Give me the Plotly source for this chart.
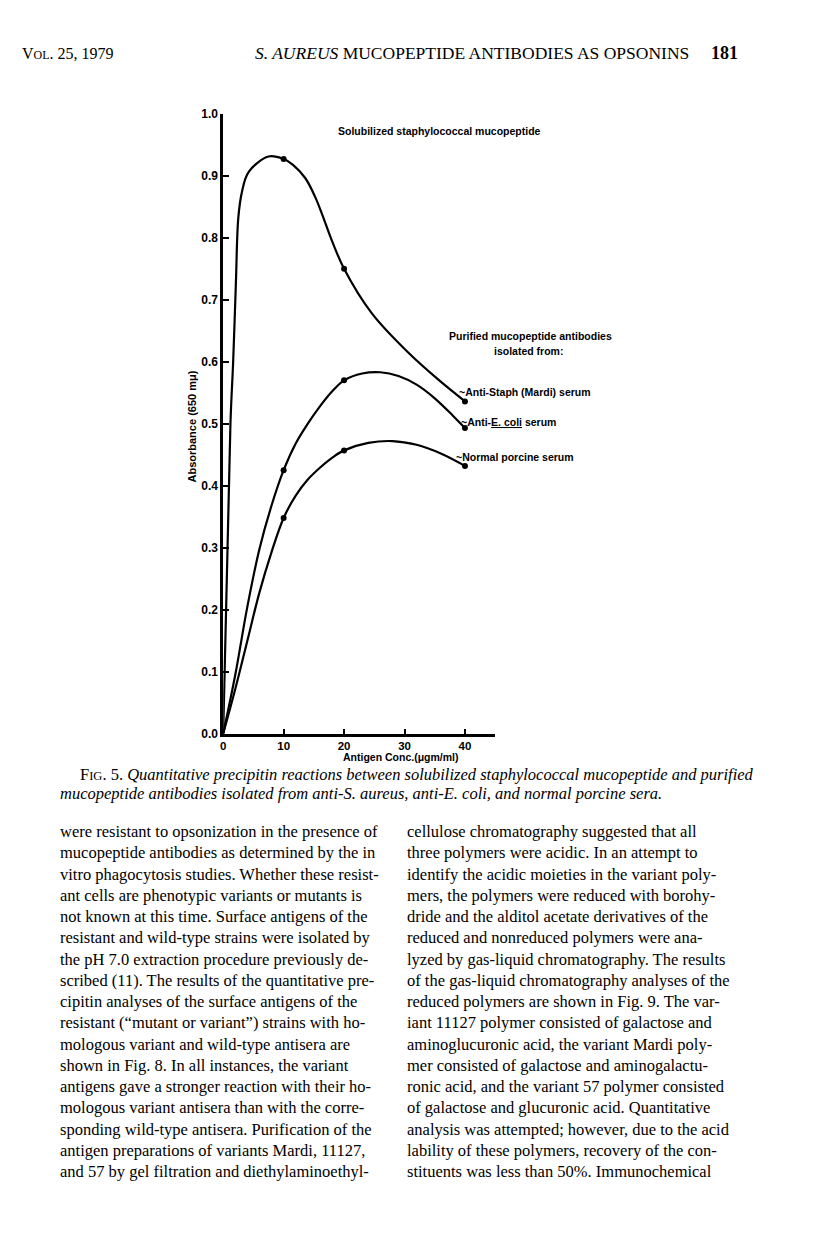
import plotly.graph_objects as go

W, H = 816, 1235

# ---- data ----
conc_measured = [10, 20, 40]
staph_measured = [0.927, 0.750, 0.536]
ecoli_measured = [0.425, 0.570, 0.493]
porcine_measured = [0.348, 0.457, 0.432]

# hand-drawn fitted curves
staph_curve_x = [0, 1.2, 1.65, 2.1, 2.5, 3.1, 4.2, 7.5, 10, 11.5, 13.6, 15.3, 16.4, 18, 20, 24.6, 30.7, 35.6, 40]
staph_curve_y = [0, 0.50, 0.60, 0.726, 0.832, 0.874, 0.906, 0.931, 0.927, 0.918, 0.896, 0.864, 0.837, 0.795, 0.750, 0.678, 0.614, 0.571, 0.536]
ecoli_curve_x = [0, 2, 4, 6, 8, 10, 12, 14, 16, 18, 20, 23, 26, 29, 32, 35, 38, 40]
ecoli_curve_y = [0, 0.095, 0.205, 0.298, 0.368, 0.425, 0.468, 0.500, 0.528, 0.552, 0.570, 0.581, 0.583, 0.577, 0.563, 0.541, 0.513, 0.493]
porcine_curve_x = [0, 2, 4, 6, 8, 10, 12, 14, 16, 18, 20, 24, 28, 32, 36, 40]
porcine_curve_y = [0, 0.072, 0.150, 0.228, 0.293, 0.348, 0.384, 0.410, 0.429, 0.445, 0.457, 0.469, 0.472, 0.466, 0.452, 0.432]

x_ticks = [0, 10, 20, 30, 40]
x_ticktext = ["0", "10", "20", "30", "40"]
y_ticks = [0, 0.1, 0.2, 0.3, 0.4, 0.5, 0.6, 0.7, 0.8, 0.9, 1.0]
y_ticktext = ["0.0", "0.1", "0.2", "0.3", "0.4", "0.5", "0.6", "0.7", "0.8", "0.9", "1.0"]

series_labels = ["~Anti-Staph (Mardi) serum", "~Anti-<u>E. coli</u> serum", "~Normal porcine serum"]

left_col = [
    "were resistant to opsonization in the presence of",
    "mucopeptide antibodies as determined by the in",
    "vitro phagocytosis studies. Whether these resist-",
    "ant cells are phenotypic variants or mutants is",
    "not known at this time. Surface antigens of the",
    "resistant and wild-type strains were isolated by",
    "the pH 7.0 extraction procedure previously de-",
    "scribed (11). The results of the quantitative pre-",
    "cipitin analyses of the surface antigens of the",
    "resistant (\u201cmutant or variant\u201d) strains with ho-",
    "mologous variant and wild-type antisera are",
    "shown in Fig. 8. In all instances, the variant",
    "antigens gave a stronger reaction with their ho-",
    "mologous variant antisera than with the corre-",
    "sponding wild-type antisera. Purification of the",
    "antigen preparations of variants Mardi, 11127,",
    "and 57 by gel filtration and diethylaminoethyl-",
]
right_col = [
    "cellulose chromatography suggested that all",
    "three polymers were acidic. In an attempt to",
    "identify the acidic moieties in the variant poly-",
    "mers, the polymers were reduced with borohy-",
    "dride and the alditol acetate derivatives of the",
    "reduced and nonreduced polymers were ana-",
    "lyzed by gas-liquid chromatography. The results",
    "of the gas-liquid chromatography analyses of the",
    "reduced polymers are shown in Fig. 9. The var-",
    "iant 11127 polymer consisted of galactose and",
    "aminoglucuronic acid, the variant Mardi poly-",
    "mer consisted of galactose and aminogalactu-",
    "ronic acid, and the variant 57 polymer consisted",
    "of galactose and glucuronic acid. Quantitative",
    "analysis was attempted; however, due to the acid",
    "lability of these polymers, recovery of the con-",
    "stituents was less than 50%. Immunochemical",
]


def px(x):
    return x / W


def py(y):
    return 1 - y / H


fig = go.Figure()
for cx, cy in [(staph_curve_x, staph_curve_y), (ecoli_curve_x, ecoli_curve_y),
               (porcine_curve_x, porcine_curve_y)]:
    fig.add_trace(go.Scatter(x=cx, y=cy, mode="lines",
                             line=dict(color="black", width=2.2, shape="spline", smoothing=1.0),
                             hoverinfo="skip", showlegend=False))
for my in [staph_measured, ecoli_measured, porcine_measured]:
    fig.add_trace(go.Scatter(x=conc_measured, y=my, mode="markers",
                             marker=dict(color="black", size=6), showlegend=False))

sans = "Liberation Sans"
serif = "Liberation Serif"

fig.update_layout(
    width=W, height=H, margin=dict(l=0, r=0, t=0, b=0),
    paper_bgcolor="white", plot_bgcolor="white",
    xaxis=dict(domain=[px(221), px(494)], range=[0, 45], showgrid=False, zeroline=False,
               showline=True, linecolor="black", linewidth=2.5,
               ticks="inside", ticklen=5, tickwidth=2, tickcolor="black",
               tickvals=x_ticks, ticktext=x_ticktext,
               tickfont=dict(family=sans, size=11.5, color="black", weight="bold")),
    yaxis=dict(domain=[py(735), py(108)], range=[0, 1], showgrid=False, zeroline=False,
               showline=True, linecolor="black", linewidth=2.5,
               ticks="inside", ticklen=6, tickwidth=2, tickcolor="black",
               tickvals=y_ticks, ticktext=y_ticktext,
               tickfont=dict(family=sans, size=12, color="black", weight="bold")),
)

ann = []


def add(text, x, y, size, family=sans, xanchor="left", weight="normal", angle=0, color="black"):
    ann.append(dict(text=text, x=px(x), y=py(y), xref="paper", yref="paper",
                    xanchor=xanchor, yanchor="middle", showarrow=False, textangle=angle,
                    font=dict(family=family, size=size, color=color, weight=weight)))


# chart texts
add("Solubilized staphylococcal mucopeptide", 334, 125, 10.5, weight="bold")
add("Purified mucopeptide antibodies", 529, 333, 10.5, xanchor="center", weight="bold")
add("isolated from:", 527, 348, 10.5, xanchor="center", weight="bold")
add(series_labels[0], 456, 389, 10.5, weight="bold")
add(series_labels[1], 458, 420, 10.5, weight="bold")
add(series_labels[2], 453, 455, 10.5, weight="bold")
add("Antigen Conc.(\u03bcgm/ml)", 399, 759, 10.5, xanchor="center", weight="bold")
add("Absorbance (650 m\u03bc)", 190, 424, 11, xanchor="center", weight="bold", angle=-90)

# page header
add("V<span style='font-size:12px'>OL</span>. 25, 1979", 17, 47, 16, family=serif)
add("<i>S. AUREUS</i> MUCOPEPTIDE ANTIBODIES AS OPSONINS", 251, 47, 17.5, family=serif)
add("181", 709, 47, 18, family=serif, weight="bold")

# caption
add("F<span style='font-size:12.5px'>IG</span>. 5. <i>Quantitative precipitin reactions between solubilized staphylococcal mucopeptide and purified</i>",
    75, 776, 16.5, family=serif)
add("<i>mucopeptide antibodies isolated from anti-S. aureus, anti-E. coli, and normal porcine sera.</i>",
    55, 796, 16.5, family=serif)

# body text
for i, line in enumerate(left_col):
    add(line, 55, 834 + i * 21.5, 16.5, family=serif)
for i, line in enumerate(right_col):
    add(line, 403, 834 + i * 21.5, 16.5, family=serif)

fig.update_layout(annotations=ann)
fig.write_html("out.html", config={"displayModeBar": False},
               post_script="document.body.style.margin='0';document.body.style.overflow='hidden';")
